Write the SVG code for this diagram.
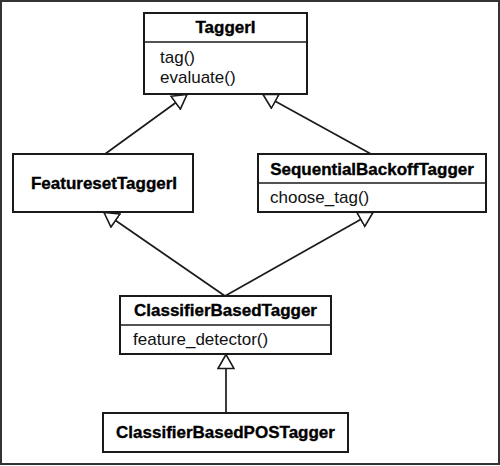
<svg xmlns="http://www.w3.org/2000/svg" width="500" height="466" viewBox="0 0 500 466">
<style>
.box{fill:#fff;stroke:#1a1a1a;stroke-width:2}
.div{stroke:#1a1a1a;stroke-width:1.6}
.t{font-family:"Liberation Sans",Arial,sans-serif;font-weight:bold;font-size:17px;fill:#000;stroke:#000;stroke-width:0.35;text-anchor:middle}
.m{font-family:"Liberation Sans",Arial,sans-serif;font-size:17px;fill:#111}
.c{stroke:#1a1a1a;stroke-width:1.7;fill:none;marker-end:url(#tri)}
</style>
<defs>
<marker id="tri" markerUnits="userSpaceOnUse" viewBox="-1 -9 16 18" markerWidth="16" markerHeight="18" refX="14" refY="0" orient="auto">
<path d="M0,-8 L14,0 L0,8 Z" fill="#fff" stroke="#1a1a1a" stroke-width="1.6"/>
</marker>
</defs>
<rect x="1" y="1" width="498" height="463" fill="#fff" stroke="#333" stroke-width="2"/>
<g id="connectors">
<line class="c" x1="105" y1="154" x2="187" y2="94.5"/>
<line class="c" x1="371" y1="154" x2="263" y2="94.5"/>
<line class="c" x1="225" y1="296" x2="104" y2="212.5"/>
<line class="c" x1="225" y1="296" x2="373" y2="212.5"/>
<line class="c" x1="226" y1="413" x2="226" y2="354.5"/>
</g>
<g id="TaggerI">
<rect class="box" x="144" y="13" width="163" height="81"/>
<line class="div" x1="144" y1="42" x2="307" y2="42"/>
<text class="t" x="225.5" y="33">TaggerI</text>
<text class="m" x="160" y="63">tag()</text>
<text class="m" x="160" y="83">evaluate()</text>
</g>
<g id="FeaturesetTaggerI">
<rect class="box" x="13" y="154" width="180" height="58"/>
<text class="t" x="104" y="189">FeaturesetTaggerI</text>
</g>
<g id="SequentialBackoffTagger">
<rect class="box" x="258" y="154" width="228" height="58"/>
<line class="div" x1="258" y1="183" x2="486" y2="183"/>
<text class="t" x="372" y="175">SequentialBackoffTagger</text>
<text class="m" x="270" y="203">choose_tag()</text>
</g>
<g id="ClassifierBasedTagger">
<rect class="box" x="120" y="296" width="211" height="58"/>
<line class="div" x1="120" y1="325" x2="331" y2="325"/>
<text class="t" x="225.5" y="316">ClassifierBasedTagger</text>
<text class="m" x="133" y="345">feature_detector()</text>
</g>
<g id="ClassifierBasedPOSTagger">
<rect class="box" x="103" y="413" width="245" height="39"/>
<text class="t" x="225.5" y="438">ClassifierBasedPOSTagger</text>
</g>
</svg>
